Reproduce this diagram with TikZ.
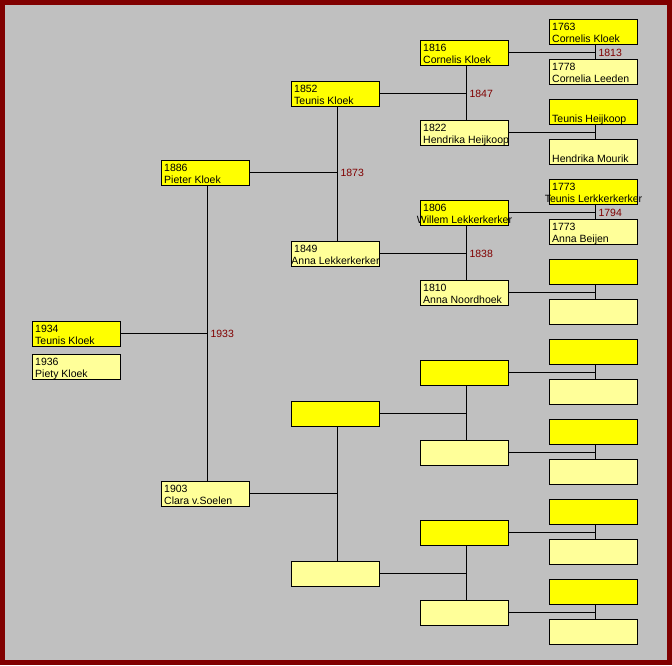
\documentclass[tikz,border=0pt]{standalone}
\usepackage{fontspec}
\setmainfont{Liberation Sans}
\definecolor{bordred}{HTML}{800000}
\definecolor{bggrey}{HTML}{C0C0C0}
\definecolor{mfill}{HTML}{FFFF00}
\definecolor{ffill}{HTML}{FFFF99}
\definecolor{lblred}{HTML}{800000}
\tikzset{
  pbase/.style={draw=black, line width=1pt, minimum width=88pt, minimum height=25pt,
    inner sep=0pt, outer sep=0pt, anchor=north west},
  malebox/.style={pbase, fill=mfill},
  femalebox/.style={pbase, fill=ffill},
  txt/.style={anchor=base west, inner sep=0pt, font=\fontsize{10.5pt}{12.5pt}\selectfont},
  ctxt/.style={txt, anchor=base},
  conn/.style={draw=black, line width=1pt},
  lbl/.style={anchor=west, inner sep=0pt, xshift=2.5pt, text=lblred,
    font=\fontsize{10.5pt}{12.5pt}\selectfont}
}
% box with year and name
\newcommand\pyn[6]{%
  \node[#4] (#1) at (#2,#3) {};
  \node[txt] (#1-y) at ([shift={(2.5pt,-10.5pt)}]#1.north west) {#5};
  \node[txt] (#1-n) at ([shift={(2.5pt,-22.5pt)}]#1.north west) {#6};
}
% box with year and centred (overflowing) name
\newcommand\pync[6]{%
  \node[#4] (#1) at (#2,#3) {};
  \node[txt] (#1-y) at ([shift={(2.5pt,-10.5pt)}]#1.north west) {#5};
  \node[ctxt] (#1-n) at ([shift={(44pt,-22.5pt)}]#1.north west) {#6};
}
% box with name only
\newcommand\pn[5]{%
  \node[#4] (#1) at (#2,#3) {};
  \node[txt] (#1-n) at ([shift={(2.5pt,-22.5pt)}]#1.north west) {#5};
}
% empty box
\newcommand\pe[4]{\node[#4] (#1) at (#2,#3) {};}
% family connectors: father, mother, child
\newcommand\famc[3]{%
  \coordinate (#1-v) at ([xshift=46pt]#1.south west);
  \coordinate (#2-v) at ([xshift=46pt]#2.north west);
  \coordinate (#3-h) at ([yshift=-12pt]#3.north east);
  \draw[conn] (#1-v) -- (#2-v);
  \draw[conn] (#3-h) -- (#3-h -| #1-v);
}
\newcommand\famcl[4]{%
  \coordinate (#1-v) at ([xshift=46pt]#1.south west);
  \coordinate (#2-v) at ([xshift=46pt]#2.north west);
  \coordinate (#3-h) at ([yshift=-12pt]#3.north east);
  \draw[conn] (#1-v) -- (#2-v);
  \draw[conn] (#3-h) -- (#3-h -| #1-v) node[lbl] (#3-m) {#4};
}
\begin{document}
\begin{tikzpicture}[x=1pt,y=-1pt]
\useasboundingbox (0,0) rectangle (672,665);
\fill[bordred] (0,0) rectangle (672,665);
\fill[bggrey] (5,5) rectangle (667,660);
\begin{scope}[shift={(0.5,0.5)}]
% column 1
\pyn{p1934}{32}{321}{malebox}{1934}{Teunis Kloek}
\pyn{p1936}{32}{354}{femalebox}{1936}{Piety Kloek}
% column 2
\pyn{p1886}{161}{160}{malebox}{1886}{Pieter Kloek}
\pyn{p1903}{161}{481}{femalebox}{1903}{Clara v.Soelen}
% column 3
\pyn{p1852}{291}{81}{malebox}{1852}{Teunis Kloek}
\pync{p1849}{291}{241}{femalebox}{1849}{Anna Lekkerkerker}
\pe{c3c}{291}{401}{malebox}
\pe{c3d}{291}{561}{femalebox}
% column 4
\pyn{p1816}{420}{40}{malebox}{1816}{Cornelis Kloek}
\pyn{p1822}{420}{120}{femalebox}{1822}{Hendrika Heijkoop}
\pync{p1806}{420}{200}{malebox}{1806}{Willem Lekkerkerker}
\pyn{p1810}{420}{280}{femalebox}{1810}{Anna Noordhoek}
\pe{c4e}{420}{360}{malebox}
\pe{c4f}{420}{440}{femalebox}
\pe{c4g}{420}{520}{malebox}
\pe{c4h}{420}{600}{femalebox}
% column 5
\pyn{p1763}{549}{19}{malebox}{1763}{Cornelis Kloek}
\pyn{p1778}{549}{59}{femalebox}{1778}{Cornelia Leeden}
\pn{g3}{549}{99}{malebox}{Teunis Heijkoop}
\pn{g4}{549}{139}{femalebox}{Hendrika Mourik}
\pync{g5}{549}{179}{malebox}{1773}{Teunis Lerkkerkerker}
\pyn{g6}{549}{219}{femalebox}{1773}{Anna Beijen}
\pe{g7}{549}{259}{malebox}
\pe{g8}{549}{299}{femalebox}
\pe{g9}{549}{339}{malebox}
\pe{g10}{549}{379}{femalebox}
\pe{g11}{549}{419}{malebox}
\pe{g12}{549}{459}{femalebox}
\pe{g13}{549}{499}{malebox}
\pe{g14}{549}{539}{femalebox}
\pe{g15}{549}{579}{malebox}
\pe{g16}{549}{619}{femalebox}
% connectors
\famcl{p1886}{p1903}{p1934}{1933}
\famcl{p1852}{p1849}{p1886}{1873}
\famc{c3c}{c3d}{p1903}
\famcl{p1816}{p1822}{p1852}{1847}
\famcl{p1806}{p1810}{p1849}{1838}
\famc{c4e}{c4f}{c3c}
\famc{c4g}{c4h}{c3d}
\famcl{p1763}{p1778}{p1816}{1813}
\famc{g3}{g4}{p1822}
\famcl{g5}{g6}{p1806}{1794}
\famc{g7}{g8}{p1810}
\famc{g9}{g10}{c4e}
\famc{g11}{g12}{c4f}
\famc{g13}{g14}{c4g}
\famc{g15}{g16}{c4h}
\end{scope}
\end{tikzpicture}
\end{document}
